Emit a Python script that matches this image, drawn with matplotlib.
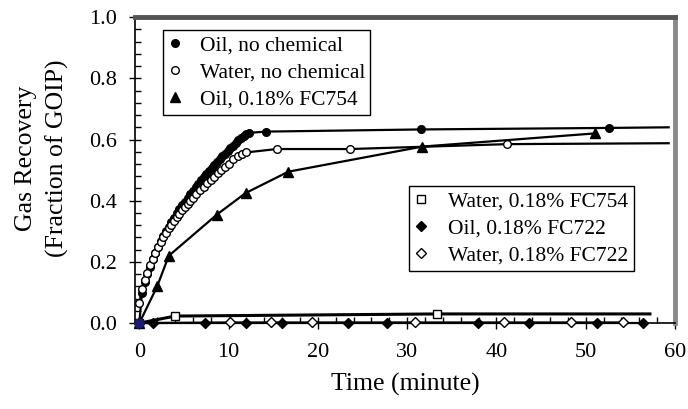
import matplotlib.pyplot as plt
from matplotlib.ticker import MultipleLocator

# Oil, no chemical (filled circles) - last value is end of the line only
oil_t = [0.0, 0.3, 0.6, 0.9, 1.2, 1.5, 1.8, 2.1, 2.4, 2.7, 3.0, 3.3, 3.6, 3.9, 4.2, 4.5,
         4.8, 5.1, 5.4, 5.7, 6.0, 6.3, 6.6, 6.9, 7.2, 7.5, 7.8, 8.1, 8.4, 8.7, 9.0, 9.3,
         9.6, 9.9, 10.2, 10.5, 10.8, 11.1, 11.4, 11.7, 12.0, 12.3, 14.2, 31.5, 52.6, 59.3]
oil_v = [0.0, 0.10, 0.135, 0.16, 0.185, 0.21, 0.23, 0.25, 0.27, 0.285, 0.30, 0.315, 0.33,
         0.345, 0.36, 0.372, 0.385, 0.397, 0.41, 0.422, 0.433, 0.445, 0.456, 0.467, 0.478,
         0.488, 0.498, 0.508, 0.518, 0.527, 0.536, 0.545, 0.554, 0.563, 0.572, 0.58, 0.589,
         0.597, 0.605, 0.612, 0.618, 0.622, 0.626, 0.633, 0.638, 0.64]

# Water, no chemical (open circles)
wat_t = [0.0, 0.3, 0.6, 0.9, 1.2, 1.5, 1.8, 2.1, 2.4, 2.7, 3.0, 3.3, 3.6, 3.9, 4.2, 4.5,
         4.8, 5.1, 5.4, 5.7, 6.0, 6.4, 6.8, 7.2, 7.6, 8.0, 8.4, 8.8, 9.2, 9.6, 10.0, 10.5,
         11.0, 11.5, 12.0, 15.4, 23.6, 41.2, 59.3]
wat_v = [0.065, 0.11, 0.14, 0.165, 0.19, 0.21, 0.23, 0.25, 0.265, 0.28, 0.295, 0.31, 0.322,
         0.335, 0.347, 0.358, 0.37, 0.38, 0.39, 0.40, 0.41, 0.423, 0.435, 0.445, 0.457,
         0.468, 0.478, 0.49, 0.50, 0.51, 0.52, 0.535, 0.546, 0.553, 0.558, 0.569, 0.569,
         0.585, 0.588]

# Oil, 0.18% FC754 (triangles)
fc754_oil_t = [0.0, 2.0, 3.3, 8.7, 11.9, 16.7, 31.7, 51.0]
fc754_oil_v = [0.0, 0.12, 0.22, 0.355, 0.425, 0.495, 0.577, 0.62]

# Water, 0.18% FC754 (open squares)
fc754_wat_t = [0.0, 4.0, 33.4, 57.2]
fc754_wat_v = [0.0, 0.023, 0.03, 0.03]

# Oil, 0.18% FC722 (filled diamonds)
fc722_oil_t = [0.0, 1.5, 7.4, 12.0, 16.0, 23.4, 27.7, 37.9, 43.7, 51.3, 56.4]
fc722_oil_v = [0.0, 0.0, 0.0, 0.0, 0.0, 0.0, 0.0, 0.0, 0.0, 0.0, 0.0]

# Water, 0.18% FC722 (open diamonds)
fc722_wat_t = [0.0, 10.2, 14.7, 19.3, 30.9, 40.9, 48.4, 54.2]
fc722_wat_v = [0.0, 0.002, 0.002, 0.002, 0.002, 0.002, 0.002, 0.002]

plt.rcParams['font.family'] = ['Liberation Serif', 'DejaVu Serif']

fig = plt.figure(figsize=(6.88, 4.09), dpi=100)
ax = fig.add_axes([0.196, 0.21, 0.785, 0.748])

lw = 1.6
ms = 5.5
h1, = ax.plot(oil_t[:-1], oil_v[:-1], 'o', color='k', ms=ms, clip_on=False, zorder=4)
ax.plot(oil_t, oil_v, '-', color='k', lw=lw, clip_on=False, zorder=3)
h2, = ax.plot(wat_t[:-1], wat_v[:-1], 'o', mfc='white', mec='k', mew=1, ms=ms,
              clip_on=False, zorder=4)
ax.plot(wat_t, wat_v, '-', color='k', lw=lw, clip_on=False, zorder=3)
h3, = ax.plot(fc754_oil_t, fc754_oil_v, '-^', color='k', lw=lw, ms=6.5, clip_on=False, zorder=3)
h4, = ax.plot(fc754_wat_t[:-1], fc754_wat_v[:-1], 's', mfc='white', mec='k', mew=1, ms=5.5,
              clip_on=False, zorder=4)
ax.plot(fc754_wat_t, fc754_wat_v, '-', color='k', lw=2.2, clip_on=False, zorder=3)
h5, = ax.plot(fc722_oil_t, fc722_oil_v, '-D', color='k', lw=lw, ms=5, clip_on=False, zorder=3)
h6, = ax.plot(fc722_wat_t, fc722_wat_v, '-D', color='k', mfc='white', mew=1, lw=lw, ms=5,
              clip_on=False, zorder=4)
# dark blue dot at the common origin point
ax.plot(oil_t[0], oil_v[0], 'o', color='#1c1c6e', ms=6.5, clip_on=False, zorder=6)

ax.set_xlim(-0.5, 60)
ax.set_ylim(0, 1.0)
ax.xaxis.set_major_locator(MultipleLocator(10))
ax.xaxis.set_minor_locator(MultipleLocator(2))
ax.yaxis.set_major_locator(MultipleLocator(0.2))
ax.yaxis.set_minor_locator(MultipleLocator(0.04))
ax.yaxis.set_major_formatter(plt.FormatStrFormatter('%.1f'))
ax.tick_params(which='major', direction='inout', length=8, width=1, labelsize=16)
ax.tick_params(which='minor', direction='in', length=4, width=1)
ax.tick_params(axis='x', pad=10)
ax.tick_params(axis='y', pad=9)

for s in ['left', 'bottom']:
    ax.spines[s].set_linewidth(1.2)
ax.spines['top'].set_linewidth(3.5)
ax.spines['top'].set_color('#555555')
ax.spines['right'].set_linewidth(3.5)
ax.spines['right'].set_color('#8a8a8a')

ax.set_xlabel('Time (minute)', fontsize=18.5, labelpad=8)
ax.set_ylabel('Gas Recovery\n(Fraction of GOIP)', fontsize=18.5, linespacing=1.45)
ax.yaxis.set_label_coords(-0.122, 0.54)

legkw = dict(loc='upper left', fontsize=15.5, frameon=True, fancybox=False, edgecolor='k',
             framealpha=1, handlelength=0.6, labelspacing=0.32, borderpad=0.25,
             borderaxespad=0)
leg1 = ax.legend([h1, h2, h3], ['Oil, no chemical', 'Water, no chemical', 'Oil, 0.18% FC754'],
                 bbox_to_anchor=(0.052, 0.957), handletextpad=0.85, **legkw)
leg1.get_frame().set_linewidth(1)
for h in leg1.legend_handles:
    h.set_linestyle('none')
ax.add_artist(leg1)
leg2 = ax.legend([h4, h5, h6], ['Water, 0.18% FC754', 'Oil, 0.18% FC722', 'Water, 0.18% FC722'],
                 bbox_to_anchor=(0.507, 0.448), handletextpad=1.0, **legkw)
leg2.get_frame().set_linewidth(1)
for h in leg2.legend_handles:
    h.set_linestyle('none')

plt.savefig('out.png', dpi=100)
